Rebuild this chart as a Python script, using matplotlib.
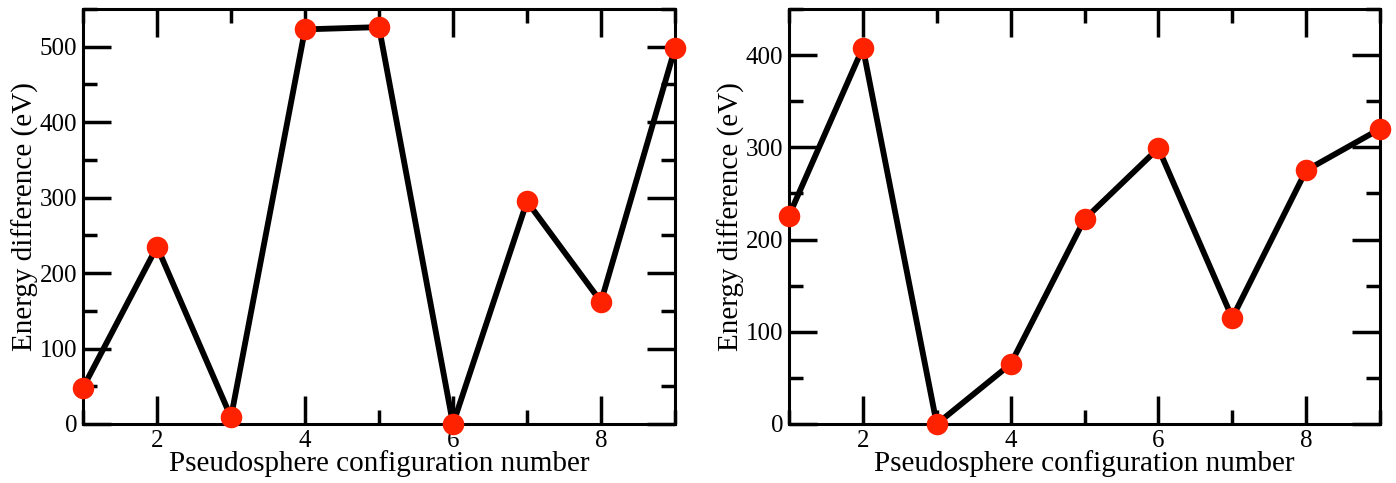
import matplotlib.pyplot as plt
from matplotlib.ticker import MultipleLocator

plt.rcParams['font.family'] = ['Liberation Serif', 'DejaVu Serif']

# Data
config = [1, 2, 3, 4, 5, 6, 7, 8, 9]
energy_left = [48, 235, 9, 523, 526, 0, 295, 162, 498]
energy_right = [226, 408, 0, 65, 222, 299, 115, 275, 320]

fig = plt.figure(figsize=(13.96, 4.83), dpi=100)
ax1 = fig.add_axes([83 / 1396, 1 - 424 / 483, 592 / 1396, 415 / 483])
ax2 = fig.add_axes([789 / 1396, 1 - 424 / 483, 591 / 1396, 415 / 483])

for ax, vals, ymax in [(ax1, energy_left, 550), (ax2, energy_right, 450)]:
    ax.plot(config, vals, color='black', lw=4.2, zorder=2, clip_on=False)
    ax.plot(config, vals, 'o', color='#ff2200', markersize=15.5, mec='none',
            zorder=3, clip_on=False)
    ax.set_xlim(1, 9)
    ax.set_ylim(0, ymax)
    ax.xaxis.set_major_locator(MultipleLocator(2))
    ax.xaxis.set_minor_locator(MultipleLocator(1))
    ax.yaxis.set_major_locator(MultipleLocator(100))
    ax.yaxis.set_minor_locator(MultipleLocator(50))
    ax.tick_params(which='both', direction='in', top=True, right=True,
                   width=2.5, labelsize=18, pad=4)
    ax.tick_params(which='major', length=20)
    ax.tick_params(which='minor', length=10)
    for s in ax.spines.values():
        s.set_linewidth(2.2)
    ax.set_xlabel('Pseudosphere configuration number', fontsize=21, labelpad=-1)
    ax.set_ylabel('Energy difference (eV)', fontsize=21, labelpad=1)
    xt = ax.get_xticks()
    ax.set_xticklabels(['' if t == 9 else '%d' % t for t in xt])

fig.savefig('out.png', dpi=100)
